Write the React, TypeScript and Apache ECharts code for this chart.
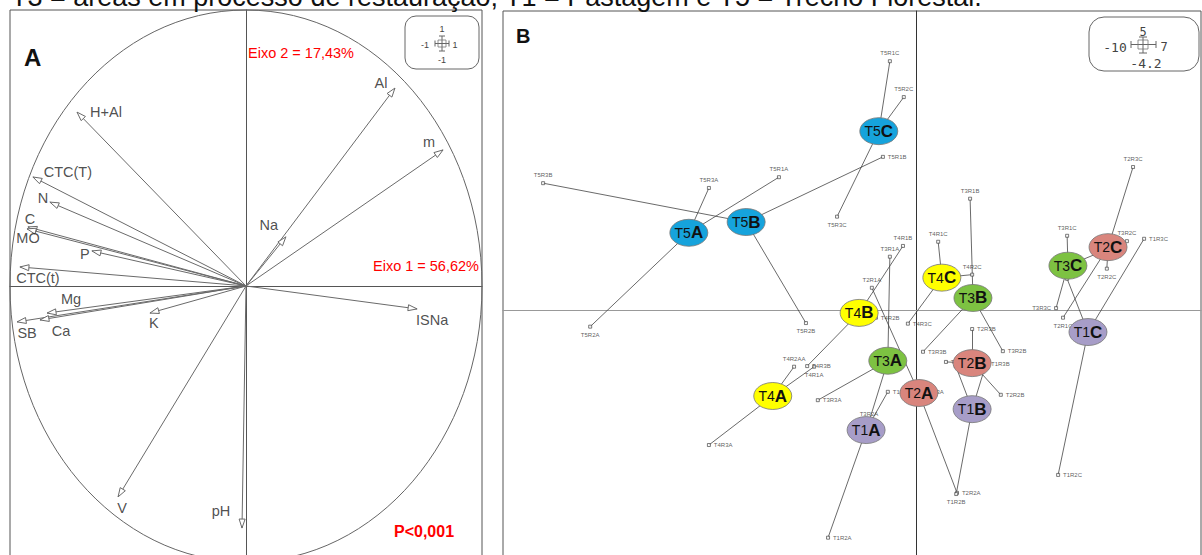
import React, { useEffect, useRef } from "react";
import * as echarts from "echarts";

// ---------- Panel A: correlation circle (axis 1 / axis 2 loadings) ----------
const varNames = ["Al", "m", "H+Al", "CTC(T)", "N", "C", "MO", "P", "CTC(t)", "Na", "ISNa", "Mg", "SB", "Ca", "K", "V", "pH"];
const varAxis1 = [0.631, 0.835, -0.716, -0.903, -0.831, -0.924, -0.928, -0.653, -0.958, 0.169, 0.725, -0.843, -0.970, -0.873, -0.407, -0.542, -0.017];
const varAxis2 = [0.717, 0.493, 0.630, 0.395, 0.304, 0.214, 0.207, 0.127, 0.069, 0.178, -0.083, -0.098, -0.130, -0.123, -0.098, -0.764, -0.877];

// ---------- Panel B: group centroids ----------
const groupNames = ["T1A", "T1B", "T1C", "T2A", "T2B", "T2C", "T3A", "T3B", "T3C", "T4A", "T4B", "T4C", "T5A", "T5B", "T5C"];
const groupX = [-1.23, 1.36, 4.19, 0.06, 1.36, 4.68, -0.70, 1.38, 3.70, -3.51, -1.40, 0.62, -5.56, -4.16, -0.92];
const groupY = [-2.01, -1.66, -0.37, -1.39, -0.89, 1.05, -0.85, 0.20, 0.74, -1.44, -0.05, 0.54, 1.29, 1.47, 2.99];

// ---------- Panel B: replicate samples ----------
const repNames = [
  "T5R1A", "T5R2A", "T5R3A", "T5R1B", "T5R2B", "T5R3B", "T5R1C", "T5R2C", "T5R3C",
  "T4R1A", "T4R2AA", "T4R3A", "T4R1B", "T4R2B", "T4R3B", "T4R1C", "T4R2C", "T4R3C",
  "T3R1A", "T3R2A", "T3R3A", "T3R1B", "T3R2B", "T3R3B", "T3R1C", "T3R2C", "T3R3C",
  "T2R1A", "T2R2A", "T2R3A", "T2R1B", "T2R2B", "T2R3B", "T2R1C", "T2R2C", "T2R3C",
  "T1R1A", "T1R2A", "T1R1B", "T1R2B", "T1R3B", "T1R1C", "T1R2C", "T1R3C",
];
const repGroup = [
  "T5A", "T5A", "T5A", "T5B", "T5B", "T5B", "T5C", "T5C", "T5C",
  "T4A", "T4A", "T4A", "T4B", "T4B", "T4B", "T4C", "T4C", "T4C",
  "T3A", "T3A", "T3A", "T3B", "T3B", "T3B", "T3C", "T3C", "T3C",
  "T2A", "T2A", "T2A", "T2B", "T2B", "T2B", "T2C", "T2C", "T2C",
  "T1A", "T1A", "T1B", "T1B", "T1B", "T1C", "T1C", "T1C",
];
const repX = [
  -3.36, -7.97, -5.07, -0.82, -2.70, -9.12, -0.65, -0.31, -1.94,
  -2.50, -2.99, -5.07, -0.33, -0.99, -2.67, 0.53, 1.36, -0.21,
  -0.65, -1.16, -2.41, 1.31, 2.11, 0.16, 3.68, 5.14, 3.41,
  -1.09, 0.99, 0.09, 0.72, 2.06, 1.36, 3.58, 4.65, 5.29,
  -0.70, -2.16, 0.96, 0.97, 1.70, 3.68, 3.46, 5.56,
];
const repY = [
  2.22, -0.28, 2.04, 2.56, -0.22, 2.12, 4.16, 3.56, 1.56,
  -0.95, -0.95, -2.26, 1.07, -0.13, -0.94, 1.14, 0.59, -0.23,
  0.89, -1.87, -1.51, 1.86, -0.69, -0.70, 1.24, 1.15, 0.03,
  0.37, -3.06, -1.37, -0.87, -1.42, -0.32, -0.13, 0.69, 2.39,
  -1.37, -3.81, -0.94, -3.08, -0.90, 0.52, -2.76, 1.19,
];

// ---------- layout / style (not data) ----------
const FONT = "Liberation Sans, Arial, Helvetica, sans-serif";
const treatColors: Record<string, string> = {
  T1: "#A79DC8",
  T2: "#D9857D",
  T3: "#7DC242",
  T4: "#FFFF00",
  T5: "#16A3DC",
};
const varLabelOffset: Record<string, number[]> = {
  Al: [-14, -5], m: [-14, -8], "H+Al": [29, 0], "CTC(T)": [35, -5], N: [-7, -4], C: [2, -8], MO: [1, 9],
  P: [-7, 3], "CTC(t)": [18, 11], Na: [-17, -12], ISNa: [15, 11], Mg: [24, -14], SB: [10, 11],
  Ca: [21, 11], K: [4, 10], V: [4, 11], pH: [-21, -17],
};
const repLabelPos: Record<string, string> = {
  T5R1B: "right", T5R3C: "bottom", T5R2A: "bottom", T5R2B: "bottom", T1R3C: "right", T2R2C: "bottom",
  T3R3C: "left", T2R1C: "bottom", T1R2C: "right", T2R2A: "right", T1R2B: "bottom", T2R3B: "right",
  T3R2B: "right", T2R2B: "right", T3R3B: "right", T2R1B: "right", T1R3B: "right", T1R1B: "right",
  T4R2B: "right", T4R3C: "right", T1R1A: "right", T2R3A: "right", T4R3B: "right", T4R1A: "bottom",
  T3R3A: "right", T4R3A: "right", T1R2A: "right",
};

function buildOption(): any {
  const arrowData = varNames.map((n, i) => ({ name: n, value: [varAxis1[i], varAxis2[i]] }));
  const varLabelData = varNames.map((n, i) => ({
    name: n,
    value: [varAxis1[i], varAxis2[i]],
    label: { offset: varLabelOffset[n] || [0, 0] },
  }));
  const lineData = repNames.map((n, i) => {
    const g = groupNames.indexOf(repGroup[i]);
    return { coords: [[groupX[g], groupY[g]], [repX[i], repY[i]]] };
  });
  const repData = repNames.map((n, i) => ({
    name: n,
    value: [repX[i], repY[i]],
    label: { position: repLabelPos[n] || "top" },
  }));
  const groupData = groupNames.map((n, i) => ({
    name: n,
    value: [groupX[i], groupY[i]],
    itemStyle: { color: treatColors[n.slice(0, 2)] },
  }));

  const txt = (text: string, x: number, y: number, opts: any = {}) => ({
    type: "text",
    z: 100,
    style: {
      text,
      x,
      y,
      fill: opts.fill || "#222",
      font: opts.font || `14px ${FONT}`,
      align: opts.align || "center",
      verticalAlign: opts.va || "middle",
      textAlign: opts.align || "center",
      textVerticalAlign: opts.va || "middle",
    },
  });
  const ln = (x1: number, y1: number, x2: number, y2: number, stroke = "#555") => ({
    type: "line",
    z: 100,
    shape: { x1, y1, x2, y2 },
    style: { stroke, lineWidth: 1 },
  });

  return {
    animation: false,
    backgroundColor: "#ffffff",
    textStyle: { fontFamily: FONT },
    grid: [
      { left: 10, top: 10, width: 472, height: 552, show: true, borderColor: "#555", borderWidth: 1, backgroundColor: "transparent" },
      { left: 503, top: 11, width: 698, height: 550, show: true, borderColor: "#555", borderWidth: 1, backgroundColor: "transparent" },
    ],
    xAxis: [
      {
        gridIndex: 0, type: "value", min: -1, max: 1,
        axisLine: { show: true, onZero: true, lineStyle: { color: "#555", width: 1 } },
        axisTick: { show: false }, axisLabel: { show: false }, splitLine: { show: false },
      },
      {
        gridIndex: 1, type: "value", min: -10.1, max: 6.95,
        axisLine: { show: true, onZero: true, lineStyle: { color: "#999", width: 1.2 } },
        axisTick: { show: false }, axisLabel: { show: false }, splitLine: { show: false },
      },
    ],
    yAxis: [
      {
        gridIndex: 0, type: "value", min: -1, max: 1,
        axisLine: { show: true, onZero: true, lineStyle: { color: "#555", width: 1 } },
        axisTick: { show: false }, axisLabel: { show: false }, splitLine: { show: false },
      },
      {
        gridIndex: 1, type: "value", min: -4.2, max: 5,
        axisLine: { show: true, onZero: true, lineStyle: { color: "#333", width: 1 } },
        axisTick: { show: false }, axisLabel: { show: false }, splitLine: { show: false },
      },
    ],
    series: [
      {
        type: "custom",
        name: "circle",
        xAxisIndex: 0,
        yAxisIndex: 0,
        z: 2,
        silent: true,
        clip: false,
        data: [[0, 0]],
        renderItem: (params: any, api: any) => {
          const c = api.coord([0, 0]);
          const s = api.size([1, 1]);
          return {
            type: "ellipse",
            shape: { cx: c[0], cy: c[1], rx: s[0], ry: s[1] },
            style: { fill: "none", stroke: "#666", lineWidth: 1 },
          };
        },
      },
      {
        type: "custom",
        name: "arrows",
        xAxisIndex: 0,
        yAxisIndex: 0,
        z: 3,
        silent: true,
        clip: false,
        data: arrowData,
        renderItem: (params: any, api: any) => {
          const o = api.coord([0, 0]);
          const p = api.coord([api.value(0), api.value(1)]);
          const dx = p[0] - o[0];
          const dy = p[1] - o[1];
          const L = Math.hypot(dx, dy) || 1;
          const ux = dx / L;
          const uy = dy / L;
          const h = 9;
          const w = 3;
          const b = [p[0] - ux * h, p[1] - uy * h];
          const l = [b[0] - uy * w, b[1] + ux * w];
          const r = [b[0] + uy * w, b[1] - ux * w];
          return {
            type: "group",
            children: [
              { type: "line", shape: { x1: o[0], y1: o[1], x2: p[0], y2: p[1] }, style: { stroke: "#6a6a6a", lineWidth: 1 } },
              { type: "polygon", shape: { points: [p, l, r] }, style: { fill: "#fff", stroke: "#6a6a6a", lineWidth: 1 } },
            ],
          };
        },
      },
      {
        type: "scatter",
        name: "varLabels",
        xAxisIndex: 0,
        yAxisIndex: 0,
        z: 4,
        silent: true,
        symbolSize: 0,
        data: varLabelData,
        label: {
          show: true,
          position: "inside",
          formatter: "{b}",
          fontSize: 14.5,
          fontFamily: FONT,
          color: "#222",
        },
      },
      {
        type: "lines",
        name: "links",
        coordinateSystem: "cartesian2d",
        xAxisIndex: 1,
        yAxisIndex: 1,
        z: 2,
        silent: true,
        symbol: ["none", "none"],
        lineStyle: { color: "#444", width: 0.8, opacity: 1 },
        data: lineData,
      },
      {
        type: "scatter",
        name: "replicates",
        xAxisIndex: 1,
        yAxisIndex: 1,
        z: 3,
        silent: true,
        symbol: "rect",
        symbolSize: 3,
        itemStyle: { color: "#fff", borderColor: "#333", borderWidth: 0.8 },
        data: repData,
        label: {
          show: true,
          formatter: "{b}",
          fontSize: 6,
          fontFamily: FONT,
          color: "#333",
          distance: 3,
        },
      },
      {
        type: "scatter",
        name: "groups",
        xAxisIndex: 1,
        yAxisIndex: 1,
        z: 6,
        silent: true,
        symbol: "circle",
        symbolSize: [38, 27],
        itemStyle: { borderColor: "#777", borderWidth: 0.8, opacity: 1 },
        data: groupData,
        label: {
          show: true,
          position: "inside",
          formatter: (p: any) => `{n|${p.name.slice(0, 2)}}{b|${p.name.slice(2)}}`,
          rich: {
            n: { fontSize: 14, fontFamily: FONT, color: "#111" },
            b: { fontSize: 17, fontFamily: FONT, fontWeight: "bold", color: "#111" },
          },
        },
      },
    ],
    graphic: [
      txt("T3 = áreas em processo de restauração; T1 = Pastagem e T5 = Trecho Florestal.", 11, -3, {
        font: `27px ${FONT}`, align: "left", fill: "#111",
      }),
      // Panel A annotations
      txt("A", 24, 57, { font: `bold 24px ${FONT}`, align: "left", fill: "#111" }),
      txt("Eixo 2 = 17,43%", 248, 53, { font: `14.5px ${FONT}`, align: "left", fill: "#ff0000" }),
      txt("Eixo 1 = 56,62%", 479, 266, { font: `14.5px ${FONT}`, align: "right", fill: "#ff0000" }),
      txt("P<0,001", 424, 531, { font: `bold 16px ${FONT}`, fill: "#ff0000" }),
      {
        type: "rect", z: 99,
        shape: { x: 405, y: 16, width: 74, height: 53, r: 11 },
        style: { fill: "#fff", stroke: "#666", lineWidth: 1 },
      },
      txt("1", 442, 29, { font: `9px ${FONT}`, fill: "#444" }),
      txt("-1", 425, 45, { font: `9px ${FONT}`, fill: "#444" }),
      txt("1", 455, 45, { font: `9px ${FONT}`, fill: "#444" }),
      txt("-1", 442, 60, { font: `9px ${FONT}`, fill: "#444" }),
      ln(442, 36, 442, 51, "#666"),
      ln(435, 43.5, 449, 43.5, "#666"),
      ln(439, 36, 445, 36, "#666"),
      ln(439, 51, 445, 51, "#666"),
      ln(435, 40.5, 435, 46.5, "#666"),
      ln(449, 40.5, 449, 46.5, "#666"),
      { type: "rect", z: 100, shape: { x: 438, y: 40, width: 8, height: 7 }, style: { fill: "none", stroke: "#777", lineWidth: 0.8 } },
      // Panel B annotations
      txt("B", 516, 36, { font: `bold 20px ${FONT}`, align: "left", fill: "#111" }),
      {
        type: "rect", z: 99,
        shape: { x: 1089, y: 17, width: 110, height: 54, r: 15 },
        style: { fill: "#fff", stroke: "#666", lineWidth: 1 },
      },
      txt("5", 1143, 32, { font: `12px DejaVu Sans Mono, monospace`, fill: "#444" }),
      txt("-10", 1115, 47, { font: `13px DejaVu Sans Mono, monospace`, fill: "#444" }),
      txt("7", 1164, 47, { font: `12px DejaVu Sans Mono, monospace`, fill: "#444" }),
      txt("-4.2", 1146, 63, { font: `13px DejaVu Sans Mono, monospace`, fill: "#444" }),
      ln(1143, 37, 1143, 53, "#666"),
      ln(1131, 44.5, 1156, 44.5, "#666"),
      ln(1139, 37, 1147, 37, "#666"),
      ln(1139, 53, 1147, 53, "#666"),
      ln(1131, 41, 1131, 48, "#666"),
      ln(1156, 41, 1156, 48, "#666"),
      { type: "rect", z: 100, shape: { x: 1138, y: 40, width: 10, height: 9 }, style: { fill: "none", stroke: "#777", lineWidth: 0.8 } },
    ],
  };
}

export default function App() {
  const ref = useRef<HTMLDivElement>(null);
  useEffect(() => {
    if (!ref.current) return;
    const chart = echarts.init(ref.current, undefined, { renderer: "svg" });
    chart.setOption(buildOption());
    return () => {
      chart.dispose();
    };
  }, []);
  return (
    <div
      style={{ position: "fixed", left: 0, top: 0, width: 1202, height: 555, overflow: "hidden", background: "#fff" }}
    >
      <div ref={ref} style={{ width: 1202, height: 620 }} />
    </div>
  );
}
